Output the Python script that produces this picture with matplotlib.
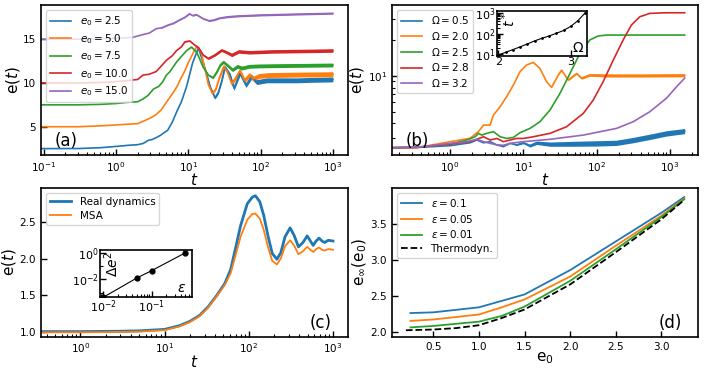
import numpy as np
import matplotlib
matplotlib.use("Agg")
import matplotlib.pyplot as plt
from matplotlib.ticker import NullFormatter, LogLocator, FixedLocator

# ---------------- panel (a): e(t) for several e0 ----------------
a_labels = ["2.5", "5.0", "7.5", "10.0", "15.0"]

a_t_1 = [0.092, 0.3, 0.6, 1.0, 1.5, 2.0, 2.4, 2.8, 3.2, 3.6, 4.1, 4.6, 5.2, 6.0, 7.0, 8.0, 9.5,
         11.5, 13.8, 16.1, 18, 20, 23.4, 26, 29, 32.2, 37.9, 43, 52, 63, 75, 89, 122, 200, 320, 500, 1000]
a_e_1 = [2.5, 2.51, 2.6, 2.75, 2.88, 2.95, 3.1, 3.45, 3.55, 3.75, 4.0, 4.3, 4.6, 5.5, 6.8, 7.8, 9.6,
         12.3, 14.0, 12.3, 11.0, 9.6, 8.3, 8.9, 10.2, 11.8, 10.9, 9.4, 11.1, 9.75, 10.7, 10.1, 10.3, 10.3, 10.3, 10.35, 10.4]
a_w_1 = [0, 0, 0, 0, 0, 0, 0, 0, 0, 0, 0, 0, 0, 0, 0, 0, 0,
         0, 0.05, 0.08, 0.1, 0.12, 0.15, 0.18, 0.2, 0.22, 0.24, 0.25, 0.26, 0.27, 0.28, 0.28, 0.28, 0.28, 0.28, 0.28, 0.28]

a_t_2 = [0.092, 0.3, 0.6, 1.0, 1.5, 2.0, 2.5, 3.0, 3.6, 4.2, 5.0, 6.2, 7.0, 8.0, 9.0, 10.0, 12.0, 13.2,
         15.0, 17.0, 19.0, 21.5, 24.0, 27.0, 31.0, 35.0, 40.0, 46.0, 52.0, 60.0, 70.0, 80.0, 95.0, 130, 300, 1000]
a_e_2 = [5.0, 5.0, 5.1, 5.2, 5.3, 5.35, 5.7, 6.0, 6.4, 6.9, 7.8, 8.9, 9.6, 10.6, 11.4, 12.3, 13.6, 14.2,
         13.6, 11.6, 9.8, 8.8, 9.3, 10.6, 11.9, 11.2, 9.9, 10.7, 11.4, 10.3, 10.9, 10.5, 10.8, 10.9, 10.95, 11.0]
a_w_2 = [0, 0, 0, 0, 0, 0, 0, 0, 0, 0, 0, 0, 0, 0, 0, 0, 0, 0.05,
         0.07, 0.1, 0.12, 0.14, 0.16, 0.18, 0.2, 0.22, 0.24, 0.26, 0.27, 0.28, 0.28, 0.28, 0.28, 0.28, 0.28, 0.28]

a_t_3 = [0.092, 0.3, 0.6, 1.0, 1.5, 2.0, 2.4, 2.8, 3.3, 3.9, 4.4, 5.0, 5.6, 6.9, 8.0, 9.5, 11.1, 13.1,
         16.1, 19.0, 22.0, 25.0, 28.0, 30.7, 35.0, 41.0, 48.0, 55.0, 70.0, 100, 300, 1000]
a_e_3 = [7.5, 7.5, 7.55, 7.65, 7.8, 7.85, 8.2, 8.6, 9.3, 9.6, 10.1, 10.9, 11.3, 12.4, 13.0, 13.7, 14.1, 13.5,
         11.8, 10.9, 10.6, 11.3, 12.1, 12.4, 12.0, 11.5, 11.9, 11.7, 11.9, 11.95, 12.0, 12.05]
a_w_3 = [0, 0, 0, 0, 0, 0, 0, 0, 0, 0, 0, 0, 0, 0, 0, 0, 0.04, 0.05,
         0.07, 0.1, 0.12, 0.14, 0.16, 0.18, 0.2, 0.2, 0.22, 0.22, 0.22, 0.22, 0.22, 0.22]

a_t_4 = [0.092, 0.3, 0.6, 1.0, 1.55, 2.0, 2.37, 2.9, 3.6, 4.2, 5.0, 6.0, 6.9, 8.0, 9.0, 10.5, 12.4, 14.0,
         16.0, 19.0, 23.4, 29.0, 34.0, 40.0, 50.0, 70.0, 150, 1000]
a_e_4 = [10.0, 10.0, 10.05, 10.15, 10.3, 10.4, 10.9, 11.0, 11.3, 11.9, 12.6, 13.1, 13.7, 14.1, 14.7, 14.8, 14.3, 14.0,
         13.2, 12.8, 13.2, 13.75, 13.5, 13.2, 13.6, 13.5, 13.6, 13.7]
a_w_4 = [0, 0, 0, 0, 0, 0, 0, 0, 0, 0, 0, 0, 0, 0, 0.04, 0.05, 0.06, 0.08,
         0.1, 0.12, 0.14, 0.16, 0.18, 0.2, 0.2, 0.2, 0.2, 0.2]

a_t_5 = [0.092, 0.3, 0.6, 1.0, 1.7, 2.3, 2.9, 3.6, 4.3, 5.2, 6.2, 7.6, 9.0, 10.4, 11.5, 13.0, 16.0,
         19.5, 23.0, 27.0, 35.0, 50.0, 100, 300, 1000]
a_e_5 = [15.0, 15.0, 15.05, 15.1, 15.2, 15.5, 15.7, 16.2, 16.3, 16.6, 16.8, 17.2, 17.5, 17.9, 17.7, 17.8, 17.35,
         17.1, 17.2, 17.4, 17.55, 17.65, 17.75, 17.85, 17.95]
a_w_5 = [0, 0, 0, 0, 0, 0, 0, 0, 0.05, 0.05, 0.05, 0.05, 0.05, 0.06, 0.07, 0.08, 0.08,
         0.08, 0.08, 0.08, 0.1, 0.1, 0.1, 0.1, 0.1]

# ---------------- panel (b): e(t) for several Omega ----------------
b_labels = ["0.5", "2.0", "2.5", "2.8", "3.2"]

b_t_1 = [0.16, 0.35, 1.0, 1.87, 2.31, 2.85, 3.51, 4.33, 5.34, 6.58, 8.11, 10, 12.3, 15.2, 23.1, 50, 100, 187, 316, 534, 900, 1600]
b_e_1 = [2.5, 2.51, 2.6, 2.75, 2.90, 2.75, 2.81, 2.64, 2.55, 2.72, 2.64, 2.75, 2.60, 2.75, 2.68, 2.70, 2.72, 2.75, 2.90, 3.09, 3.30, 3.45]
b_w_1 = [0, 0, 0, 0, 0, 0, 0, 0, 0, 0, 0.03, 0.05, 0.07, 0.09, 0.11, 0.13, 0.14, 0.14, 0.15, 0.16, 0.17, 0.17]

b_t_2 = [0.16, 0.35, 1.0, 1.37, 1.87, 2.43, 2.85, 3.5, 3.9, 4.8, 5.9, 7.3, 9.0, 11.1, 13.7, 16.8, 20.8, 24.3,
         30.0, 33.3, 41.0, 53.4, 62.3, 81.1, 150, 400, 1600]
b_e_2 = [2.5, 2.5, 2.81, 2.9, 3.0, 3.41, 3.87, 3.87, 4.7, 5.52, 6.70, 8.40, 10.9, 12.4, 13.0, 11.6, 8.96, 8.03,
         10.2, 11.2, 9.26, 10.5, 9.6, 10.2, 10.1, 10.1, 10.15]
b_w_2 = [0, 0, 0, 0, 0, 0, 0, 0, 0, 0, 0, 0, 0, 0, 0, 0, 0, 0,
         0.05, 0.08, 0.12, 0.16, 0.2, 0.25, 0.3, 0.3, 0.3]

b_t_3 = [0.16, 0.35, 1.0, 1.69, 2.19, 2.43, 2.70, 3.16, 3.9, 4.81, 5.93, 7.3, 9.0, 12.3, 16.8, 23.1, 31.6,
         43.3, 59.2, 81.1, 105, 137, 300, 1600]
b_e_3 = [2.5, 2.52, 2.68, 2.90, 3.09, 3.30, 3.19, 3.30, 3.41, 3.09, 2.99, 3.05, 3.34, 3.63, 4.13, 5.18, 7.15,
         10.5, 15.5, 20.1, 21.7, 22.1, 22.1, 22.1]

b_t_4 = [0.16, 0.35, 1.0, 1.87, 2.31, 2.85, 3.51, 4.33, 5.34, 6.58, 8.11, 10, 13.7, 23.1, 38.9, 65.8, 90, 123,
         169, 231, 299, 390, 534, 900, 1600]
b_e_4 = [2.5, 2.52, 2.68, 2.81, 2.94, 3.09, 2.90, 2.99, 2.81, 2.90, 2.99, 2.99, 3.09, 3.30, 3.75, 4.85, 6.28, 8.96,
         13.6, 20.1, 26.8, 31.5, 33.6, 34.0, 34.0]

b_t_5 = [0.16, 0.35, 1.0, 1.69, 2.31, 2.85, 3.51, 4.33, 5.34, 6.58, 10, 23.1, 65.8, 187, 316, 534, 900, 1233, 1600]
b_e_5 = [2.5, 2.52, 2.72, 2.81, 2.94, 2.81, 2.72, 2.64, 2.62, 2.72, 2.81, 2.94, 3.19, 3.63, 4.13, 5.01, 6.5, 8.1, 9.6]

# inset of (b): t* versus Omega
b_omega = [2.0, 2.1, 2.2, 2.3, 2.4, 2.5, 2.6, 2.7, 2.8, 2.9, 3.0, 3.1, 3.2]
b_tstar = [9.3, 12.5, 17, 23, 32, 45, 60, 78, 105, 145, 230, 440, 1050]

# ---------------- panel (c): real dynamics vs MSA ----------------
c_t = [0.34, 1.0, 3.0, 5.0, 10, 15, 20, 26, 33, 42, 52, 61, 70, 80, 96, 110, 120, 135, 150, 170, 190,
       216, 240, 270, 310, 345, 389, 440, 494, 540, 582, 630, 684, 740, 795, 880, 1000]
c_real = [1.0, 1.0, 1.005, 1.01, 1.03, 1.08, 1.14, 1.22, 1.34, 1.50, 1.66, 1.85, 2.15, 2.45, 2.75, 2.84, 2.86, 2.78,
          2.60, 2.30, 2.07, 1.99, 2.08, 2.30, 2.42, 2.32, 2.16, 2.22, 2.31, 2.24, 2.18, 2.24, 2.28, 2.24, 2.22, 2.25, 2.24]
c_msa = [0.99, 0.99, 0.995, 1.0, 1.02, 1.07, 1.13, 1.21, 1.33, 1.49, 1.64, 1.80, 2.05, 2.30, 2.53, 2.61, 2.615, 2.55,
         2.40, 2.15, 1.97, 1.92, 2.00, 2.17, 2.25, 2.18, 2.06, 2.10, 2.16, 2.12, 2.09, 2.13, 2.15, 2.12, 2.11, 2.13, 2.12]

# inset of (c): error vs epsilon
c_eps = [0.01, 0.05, 0.1, 0.5]
c_de2 = [4.5e-4, 0.013, 0.045, 1.0]

# ---------------- panel (d): e_inf(e0) ----------------
d_e0 = [0.25, 0.5, 1.0, 1.25, 1.5, 2.0, 2.5, 3.0, 3.25]
d_eps_labels = ["0.1", "0.05", "0.01"]
d_einf_1 = [2.26, 2.27, 2.34, 2.43, 2.52, 2.86, 3.26, 3.66, 3.88]
d_einf_2 = [2.15, 2.17, 2.24, 2.34, 2.45, 2.77, 3.20, 3.62, 3.86]
d_einf_3 = [2.06, 2.08, 2.14, 2.22, 2.35, 2.71, 3.15, 3.60, 3.85]
d_e0_th = [0.2, 0.5, 0.75, 1.0, 1.25, 1.5, 2.0, 2.5, 3.0, 3.25]
d_einf_th = [2.02, 2.03, 2.05, 2.09, 2.19, 2.31, 2.66, 3.11, 3.57, 3.84]

TICK = 7.5
LABEL = 11
PANEL = 12


def style_axis(ax, labelsize=TICK):
    ax.tick_params(which='both', direction='in', labelsize=labelsize)
    ax.tick_params(which='major', length=4, width=1)
    ax.tick_params(which='minor', length=2, width=0.8)
    for s in ax.spines.values():
        s.set_linewidth(1.2)


def band(ax, t, e, w, color, lw=1.2):
    # thin line plus the envelope of the fast oscillations
    t = np.asarray(t)
    e = np.asarray(e)
    w = np.asarray(w)
    ax.fill_between(t, e - w, e + w, color=color, lw=0)
    return ax.plot(t, e, color=color, lw=lw)[0]


def labels(ax, xl, yl):
    ax.set_xlabel(xl, fontsize=LABEL, labelpad=-1)
    ax.set_ylabel(yl, fontsize=LABEL, labelpad=1)


def panel_a(ax):
    ts = [a_t_1, a_t_2, a_t_3, a_t_4, a_t_5]
    es = [a_e_1, a_e_2, a_e_3, a_e_4, a_e_5]
    ws = [a_w_1, a_w_2, a_w_3, a_w_4, a_w_5]
    for i in range(5):
        ln = band(ax, ts[i], es[i], ws[i], f"C{i}")
        ln.set_label(rf"$e_0 = {a_labels[i]}$")
    ax.set_xscale('log')
    ax.set_xlim(0.092, 1620)
    ax.set_ylim(1.77, 18.9)
    ax.set_yticks([5, 10, 15])
    labels(ax, r'$t$', r'e$(t)$')
    ax.legend(loc='upper left', fontsize=7.5, handlelength=2.0, labelspacing=0.35)
    ax.text(0.045, 0.06, '(a)', transform=ax.transAxes, fontsize=PANEL)
    style_axis(ax)


def panel_b(fig, ax):
    ts = [b_t_1, b_t_2, b_t_3, b_t_4, b_t_5]
    es = [b_e_1, b_e_2, b_e_3, b_e_4, b_e_5]
    ws = {0: b_w_1, 1: b_w_2}
    for i in range(5):
        if i in ws:
            ln = band(ax, ts[i], es[i], ws[i], f"C{i}")
        else:
            ln = ax.plot(ts[i], es[i], color=f"C{i}", lw=1.2)[0]
        ln.set_label(rf"$\Omega = {b_labels[i]}$")
    ax.set_xscale('log')
    ax.set_yscale('log')
    ax.set_xlim(0.16, 2430)
    ax.set_ylim(2.17, 39.5)
    ax.yaxis.set_minor_formatter(NullFormatter())
    labels(ax, r'$t$', r'e$(t)$')
    ax.legend(loc='upper left', fontsize=7.5, handlelength=2.0, labelspacing=0.35)
    ax.text(0.045, 0.06, '(b)', transform=ax.transAxes, fontsize=PANEL)
    style_axis(ax)

    # inset: t* against Omega
    ins = fig.add_axes([0.7035, 0.8495, 0.1275, 0.121])
    ins.plot(b_omega, b_tstar, color='k', lw=0.8, marker='.', ms=2)
    ins.set_yscale('log')
    ins.set_xlim(1.975, 3.22)
    ins.set_ylim(8.26, 1290)
    ins.set_xticks([2, 3])
    ins.yaxis.set_minor_formatter(NullFormatter())
    style_axis(ins, labelsize=8)
    ins.tick_params(axis='both', pad=1)
    ins.text(0.03, 0.97, r'$t^*$', rotation=90, transform=ins.transAxes,
             ha='left', va='top', fontsize=10)
    ins.text(0.97, 0.02, r'$\Omega$', transform=ins.transAxes,
             ha='right', va='bottom', fontsize=10)


def panel_c(fig, ax):
    ax.plot(c_t, c_real, color='C0', lw=2.0, label='Real dynamics')
    ax.plot(c_t, c_msa, color='C1', lw=1.3, label='MSA')
    ax.set_xscale('log')
    ax.set_xlim(0.342, 1507)
    ax.set_ylim(0.93, 2.97)
    ax.set_yticks([1.0, 1.5, 2.0, 2.5])
    labels(ax, r'$t$', r'e$(t)$')
    ax.legend(loc='upper left', fontsize=7.5, handlelength=2.0, labelspacing=0.35)
    ax.text(0.948, 0.06, '(c)', transform=ax.transAxes, fontsize=PANEL, ha='right')
    style_axis(ax)

    # inset: error against epsilon
    ins = fig.add_axes([0.1416, 0.2008, 0.1303, 0.127])
    ins.plot(c_eps, c_de2, color='k', lw=0.8, marker='o', ms=3.5)
    ins.set_xscale('log')
    ins.set_yscale('log')
    ins.set_xlim(10 ** -2.07, 10 ** -0.166)
    ins.set_ylim(10 ** -3.35, 10 ** 0.2)
    ins.yaxis.set_major_locator(FixedLocator([1e-2, 1e0]))
    ins.yaxis.set_minor_locator(FixedLocator([1e-3, 1e-1]))
    ins.xaxis.set_major_locator(FixedLocator([1e-2, 1e-1]))
    ins.xaxis.set_minor_locator(LogLocator(base=10, subs=np.arange(2, 10)))
    ins.xaxis.set_minor_formatter(NullFormatter())
    ins.yaxis.set_minor_formatter(NullFormatter())
    style_axis(ins, labelsize=8)
    ins.tick_params(axis='both', pad=1)
    ins.text(0.03, 0.97, r'$\Delta e^2$', rotation=90, transform=ins.transAxes,
             ha='left', va='top', fontsize=10)
    ins.text(0.93, 0.05, r'$\varepsilon$', transform=ins.transAxes,
             ha='right', va='bottom', fontsize=10)


def panel_d(ax):
    curves = [d_einf_1, d_einf_2, d_einf_3]
    for i in range(3):
        ax.plot(d_e0, curves[i], color=f"C{i}", lw=1.3,
                label=rf"$\varepsilon = {d_eps_labels[i]}$")
    ax.plot(d_e0_th, d_einf_th, color='k', ls='--', lw=1.3, label='Thermodyn.')
    ax.set_xlim(0.0475, 3.40)
    ax.set_ylim(1.93, 4.01)
    ax.set_xticks([0.5, 1.0, 1.5, 2.0, 2.5, 3.0])
    ax.set_yticks([2.0, 2.5, 3.0, 3.5])
    labels(ax, r'$\mathrm{e}_0$', r'$\mathrm{e}_\infty(\mathrm{e}_0)$')
    ax.legend(loc='upper left', fontsize=7.5, handlelength=2.0, labelspacing=0.35)
    ax.text(0.948, 0.06, '(d)', transform=ax.transAxes, fontsize=PANEL, ha='right')
    style_axis(ax)


def main():
    fig = plt.figure(figsize=(7.06, 3.72), dpi=100)
    ax_a = fig.add_axes([0.0581, 0.5833, 0.4348, 0.4032])
    ax_b = fig.add_axes([0.5552, 0.5833, 0.4334, 0.4032])
    ax_c = fig.add_axes([0.0581, 0.0949, 0.4348, 0.4005])
    ax_d = fig.add_axes([0.5552, 0.0949, 0.4334, 0.4005])

    panel_a(ax_a)
    panel_b(fig, ax_b)
    panel_c(fig, ax_c)
    panel_d(ax_d)

    fig.savefig('out.png', dpi=100)


if __name__ == "__main__":
    main()
